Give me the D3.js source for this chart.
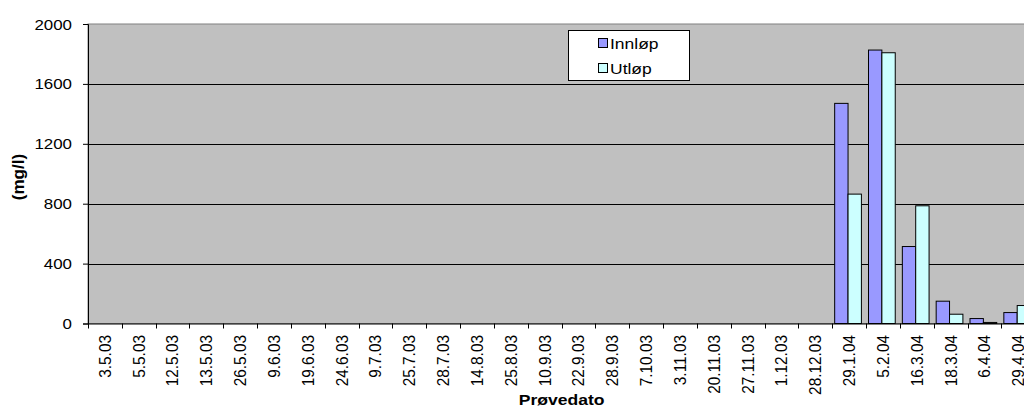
<!DOCTYPE html>
<html>
<head>
<meta charset="utf-8">
<script src="https://cdn.jsdelivr.net/npm/d3@7/dist/d3.min.js"></script>
<style>
  html, body { margin: 0; padding: 0; background: #ffffff; overflow: hidden; }
  svg { display: block; }
  text { font-family: "Liberation Sans", Arial, sans-serif; fill: #000; }
</style>
</head>
<body>
<script>
// Sample dates (Prøvedato)
const categories = [
  "3.5.03", "5.5.03", "12.5.03", "13.5.03", "26.5.03", "9.6.03", "19.6.03",
  "24.6.03", "9.7.03", "25.7.03", "28.7.03", "14.8.03", "25.8.03", "10.9.03",
  "22.9.03", "28.9.03", "7.10.03", "3.11.03", "20.11.03", "27.11.03", "1.12.03",
  "28.12.03", "29.1.04", "5.2.04", "16.3.04", "18.3.04", "6.4.04", "29.4.04"
];
// Concentrations in mg/l; null where no value was measured
const innlop = [
  null, null, null, null, null, null, null, null, null, null, null,
  null, null, null, null, null, null, null, null, null, null, null,
  1470, 1826, 514, 149, 33, 73
];
const utlop = [
  null, null, null, null, null, null, null, null, null, null, null,
  null, null, null, null, null, null, null, null, null, null, null,
  864, 1808, 786, 62, 7, 120
];
const seriesNames = ["Innløp", "Utløp"];
const seriesColors = ["#9999ff", "#ccffff"];
const yTicks = [0, 400, 800, 1200, 1600, 2000];

const W = 1024, H = 407;
const plot = { left: 88, top: 24, right: 1035.3, bottom: 323.5 };
const SX = 1.3, SY = 1.1;   // glyph stretch of the chart text

const svg = d3.select("body").append("svg").attr("width", W).attr("height", H);

const x = d3.scaleBand().domain(categories).range([plot.left, plot.right]).padding(0);
const y = d3.scaleLinear().domain([0, 2000]).range([plot.bottom, plot.top]);

// plot area
svg.append("rect")
  .attr("x", plot.left).attr("y", plot.top)
  .attr("width", plot.right - plot.left).attr("height", plot.bottom - plot.top)
  .attr("fill", "#c0c0c0").attr("stroke", "#808080").attr("stroke-width", 1);

// gridlines
svg.append("g").selectAll("line")
  .data(yTicks.filter(d => d > 0 && d < 2000))
  .join("line")
  .attr("x1", plot.left).attr("x2", plot.right)
  .attr("y1", d => Math.round(y(d)) + 0.5).attr("y2", d => Math.round(y(d)) + 0.5)
  .attr("stroke", "#000").attr("stroke-width", 1);

// bars
const bw = x.bandwidth();
const barW = bw * 0.395, gapL = bw * 0.07;
const series = [innlop, utlop];
series.forEach((vals, si) => {
  svg.append("g").selectAll("rect")
    .data(categories.map((c, i) => ({ c, v: vals[i] })).filter(d => d.v != null))
    .join("rect")
    .attr("x", d => x(d.c) + gapL + si * barW)
    .attr("y", d => y(d.v))
    .attr("width", barW)
    .attr("height", d => y(0) - y(d.v))
    .attr("fill", seriesColors[si])
    .attr("stroke", "#000").attr("stroke-width", 1);
});

// y axis
const yAxis = svg.append("g")
  .attr("transform", `translate(${plot.left},0)`)
  .call(d3.axisLeft(y).tickValues(yTicks).tickSize(5).tickFormat(d3.format("d")));
yAxis.select(".domain").attr("stroke", "#000");
yAxis.selectAll("line").attr("stroke", "#000");
yAxis.selectAll("text")
  .attr("x", null).attr("dy", null)
  .attr("text-anchor", "end")
  .attr("dominant-baseline", "central")
  .attr("font-size", 13)
  .attr("transform", `translate(-16,0) scale(${SX},${SY})`);

// x axis: labels at band centres, tick marks at band edges
const xAxis = svg.append("g")
  .attr("transform", `translate(0,${plot.bottom})`)
  .call(d3.axisBottom(x).tickSize(0));
xAxis.select(".domain").attr("stroke", "#000").attr("d", `M${plot.left},0.5H${plot.right}`);
xAxis.selectAll("text")
  .attr("y", null).attr("dy", null)
  .attr("text-anchor", "end")
  .attr("dominant-baseline", "central")
  .attr("font-size", 14)
  .attr("transform", `translate(-0.5,11.5) scale(1.22,1.1) rotate(-90)`);
svg.append("g").selectAll("line")
  .data(d3.range(categories.length + 1))
  .join("line")
  .attr("x1", i => Math.round(plot.left + i * x.step()) + 0.5)
  .attr("x2", i => Math.round(plot.left + i * x.step()) + 0.5)
  .attr("y1", plot.bottom).attr("y2", plot.bottom + 5)
  .attr("stroke", "#000");

// axis titles
svg.append("text")
  .attr("text-anchor", "middle")
  .attr("font-weight", "bold").attr("font-size", 13.5)
  .attr("transform", `translate(${(plot.left + plot.right) / 2},405) scale(${SX},${SY})`)
  .text("Prøvedato");
svg.append("text")
  .attr("text-anchor", "middle")
  .attr("dominant-baseline", "central")
  .attr("font-weight", "bold").attr("font-size", 13)
  .attr("transform", `translate(19,177) scale(${SX},${SY * 1.2}) rotate(-90)`)
  .text("(mg/l)");

// legend
const lg = svg.append("g").attr("transform", "translate(568,30)");
lg.append("rect").attr("x", 0.5).attr("y", 0.5).attr("width", 121).attr("height", 50)
  .attr("fill", "#fff").attr("stroke", "#000");
seriesNames.forEach((name, i) => {
  const row = lg.append("g").attr("transform", `translate(30,${13 + i * 25})`);
  row.append("rect").attr("x", 0.5).attr("y", -4.5).attr("width", 9).attr("height", 9)
    .attr("fill", seriesColors[i]).attr("stroke", "#000");
  row.append("text")
    .attr("dominant-baseline", "central")
    .attr("font-size", 14)
    .attr("transform", `translate(12,0.5) scale(1.25,${SY})`)
    .text(name);
});
</script>
</body>
</html>
